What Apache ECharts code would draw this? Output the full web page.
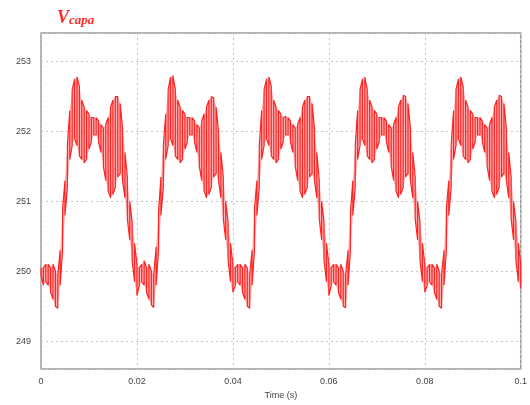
<!DOCTYPE html>
<html>
<head>
<meta charset="utf-8">
<script src="https://cdn.jsdelivr.net/npm/echarts@6/dist/echarts.min.js"></script>
<style>html,body{margin:0;padding:0;background:#fff}#c{width:530px;height:405px}</style>
</head>
<body>
<div id="c"></div>
<script>
// sample step of the trace (s) and start time
const tStart = 0;
const tStep = 0.0005;
// tick values
const xTicks = [0, 0.02, 0.04, 0.06, 0.08, 0.1];
const yTicks = [249, 250, 251, 252, 253];
// upper edge of the switching-ripple band of Vcapa (V), read every 0.5 ms
const vUpper = [
  // 0 - 20 ms
  250.05, 250.05, 250.1, 250.1, 250.05, 250.1, 250.0, 249.95, 250.3, 250.9,
  251.3, 251.8, 252.3, 252.6, 252.75, 252.78, 252.65, 252.45, 252.35, 252.3,
  252.25, 252.2, 252.2, 252.2, 252.15, 252.1, 252.05, 252.1, 252.2, 252.35,
  252.45, 252.5, 252.5, 252.4, 252.05, 251.7, 251.35, 251.0, 250.7, 250.4,
  // 20 - 40 ms
  250.1, 250.05, 250.1, 250.15, 250.05, 250.1, 250.0, 249.95, 250.35, 250.85,
  251.35, 251.8, 252.25, 252.6, 252.78, 252.8, 252.6, 252.45, 252.35, 252.3,
  252.25, 252.2, 252.2, 252.2, 252.15, 252.1, 252.05, 252.15, 252.25, 252.35,
  252.45, 252.5, 252.48, 252.35, 252.0, 251.7, 251.35, 251.0, 250.7, 250.4,
  // 40 - 60 ms
  250.1, 250.05, 250.1, 250.1, 250.05, 250.1, 250.05, 249.95, 250.3, 250.9,
  251.3, 251.8, 252.3, 252.6, 252.75, 252.78, 252.65, 252.45, 252.35, 252.3,
  252.25, 252.2, 252.22, 252.2, 252.15, 252.1, 252.05, 252.1, 252.2, 252.35,
  252.45, 252.5, 252.5, 252.4, 252.05, 251.7, 251.3, 251.0, 250.7, 250.4,
  // 60 - 80 ms
  250.1, 250.05, 250.1, 250.1, 250.05, 250.1, 250.0, 249.95, 250.3, 250.85,
  251.3, 251.8, 252.3, 252.6, 252.75, 252.78, 252.6, 252.45, 252.35, 252.3,
  252.25, 252.2, 252.2, 252.2, 252.15, 252.1, 252.05, 252.1, 252.2, 252.35,
  252.45, 252.52, 252.5, 252.4, 252.05, 251.7, 251.35, 251.0, 250.7, 250.4,
  // 80 - 100 ms
  250.1, 250.05, 250.1, 250.1, 250.05, 250.1, 250.0, 249.95, 250.3, 250.9,
  251.3, 251.8, 252.3, 252.6, 252.75, 252.78, 252.65, 252.45, 252.35, 252.3,
  252.25, 252.2, 252.2, 252.2, 252.15, 252.1, 252.05, 252.1, 252.2, 252.35,
  252.45, 252.52, 252.5, 252.4, 252.05, 251.7, 251.35, 251.0, 250.7, 250.4,
  250.1
];
// lower edge of the same band (V), read every 0.5 ms
const vLower = [
  // 0 - 20 ms
  249.95, 249.8, 249.85, 249.8, 249.7, 249.6, 249.5, 249.47, 249.8, 250.3,
  250.8, 251.2, 251.6, 251.8, 251.9, 251.8, 251.65, 251.6, 251.55, 251.6,
  251.75, 251.85, 251.95, 251.95, 251.85, 251.7, 251.5, 251.3, 251.15, 251.05,
  251.1, 251.2, 251.35, 251.4, 251.3, 251.05, 250.75, 250.45, 250.15, 249.85,
  // 20 - 40 ms
  249.65, 249.8, 249.85, 249.8, 249.7, 249.6, 249.52, 249.48, 249.8, 250.3,
  250.8, 251.2, 251.6, 251.8, 251.9, 251.8, 251.65, 251.6, 251.55, 251.6,
  251.75, 251.85, 251.95, 251.95, 251.85, 251.7, 251.5, 251.3, 251.15, 251.05,
  251.1, 251.2, 251.35, 251.4, 251.3, 251.05, 250.75, 250.45, 250.15, 249.85,
  // 40 - 60 ms
  249.7, 249.8, 249.85, 249.8, 249.7, 249.6, 249.5, 249.47, 249.8, 250.3,
  250.8, 251.2, 251.6, 251.8, 251.9, 251.8, 251.65, 251.6, 251.55, 251.6,
  251.75, 251.85, 251.95, 251.95, 251.85, 251.7, 251.5, 251.3, 251.15, 251.05,
  251.1, 251.2, 251.35, 251.4, 251.3, 251.05, 250.75, 250.45, 250.15, 249.85,
  // 60 - 80 ms
  249.65, 249.8, 249.85, 249.8, 249.7, 249.6, 249.5, 249.48, 249.8, 250.3,
  250.8, 251.2, 251.6, 251.8, 251.9, 251.8, 251.65, 251.6, 251.55, 251.6,
  251.75, 251.85, 251.95, 251.95, 251.85, 251.7, 251.5, 251.3, 251.15, 251.05,
  251.1, 251.2, 251.35, 251.4, 251.3, 251.05, 250.75, 250.45, 250.15, 249.85,
  // 80 - 100 ms
  249.7, 249.8, 249.85, 249.8, 249.7, 249.6, 249.5, 249.47, 249.8, 250.3,
  250.8, 251.2, 251.6, 251.8, 251.9, 251.8, 251.65, 251.6, 251.55, 251.6,
  251.75, 251.85, 251.95, 251.95, 251.85, 251.7, 251.5, 251.3, 251.15, 251.05,
  251.1, 251.2, 251.35, 251.4, 251.3, 251.05, 250.75, 250.45, 250.15, 249.85,
  249.75
];

const times = vUpper.map((_, i) => +(tStart + i * tStep).toFixed(5));
// ripple trace: each sample drawn as a vertical stroke between its band edges
const trace = [];
times.forEach((t, i) => {
  if (i % 2 === 0) { trace.push([t, vUpper[i]]); trace.push([t, vLower[i]]); }
  else { trace.push([t, vLower[i]]); trace.push([t, vUpper[i]]); }
});
// band segments between consecutive samples
const bandData = times.slice(0, -1).map((t, i) => [t, times[i + 1], vUpper[i], vLower[i], vUpper[i + 1], vLower[i + 1]]);

const chart = echarts.init(document.getElementById('c'), null, {renderer: 'canvas'});
const labelFont = {fontFamily: 'Liberation Sans, Arial, sans-serif', fontSize: 9, color: '#444'};
chart.setOption({
  animation: false,
  backgroundColor: '#fff',
  title: {
    left: 52, top: 1,
    text: '{v|V}{s|capa}',
    textStyle: {
      rich: {
        v: {fontFamily: 'Liberation Serif, serif', fontStyle: 'italic', fontSize: 18, color: '#ff2a2a', verticalAlign: 'bottom'},
        s: {fontFamily: 'Liberation Serif, serif', fontStyle: 'italic', fontWeight: 'bold', fontSize: 13, color: '#ff2a2a', verticalAlign: 'bottom', padding: [8, 0, 0, 0]}
      }
    }
  },
  grid: {left: 41, right: 7, top: 33, bottom: 30, show: true, borderColor: '#9a9a9a', borderWidth: 1.5, backgroundColor: 'transparent'},
  xAxis: {
    type: 'value', min: xTicks[0], max: xTicks[xTicks.length - 1], interval: 0.02,
    name: 'Time (s)', nameLocation: 'middle', nameGap: 20,
    nameTextStyle: labelFont,
    axisLine: {show: false}, axisTick: {show: false},
    axisLabel: Object.assign({margin: 8, formatter: v => xTicks.some(t => Math.abs(t - v) < 1e-9) ? String(+v.toFixed(2)) : ''}, labelFont),
    splitLine: {show: true, lineStyle: {color: '#c4c4c4', type: [2, 3], width: 1}}
  },
  yAxis: {
    type: 'value', min: 248.6, max: 253.41, splitNumber: 5,
    axisLine: {show: false}, axisTick: {show: false},
    axisLabel: Object.assign({margin: 10, formatter: v => yTicks.some(t => Math.abs(t - v) < 1e-9) ? String(v) : ''}, labelFont),
    splitLine: {show: true, lineStyle: {color: '#c4c4c4', type: [2, 3], width: 1}}
  },
  series: [{
    type: 'custom',
    data: bandData,
    encode: {x: [0, 1], y: [2, 3, 4, 5]},
    renderItem: function (params, api) {
      const a = api.coord([api.value(0), api.value(2)]);
      const b = api.coord([api.value(1), api.value(4)]);
      const c = api.coord([api.value(1), api.value(5)]);
      const d = api.coord([api.value(0), api.value(3)]);
      return {type: 'polygon', shape: {points: [a, b, c, d]}, style: {fill: 'rgba(255,80,80,0.45)', stroke: null}};
    },
    silent: true
  }, {
    type: 'line', data: trace, showSymbol: false, symbol: 'none',
    lineStyle: {color: '#ff2424', width: 1.2},
    itemStyle: {color: '#ff2424'}
  }]
});
</script>
</body>
</html>
